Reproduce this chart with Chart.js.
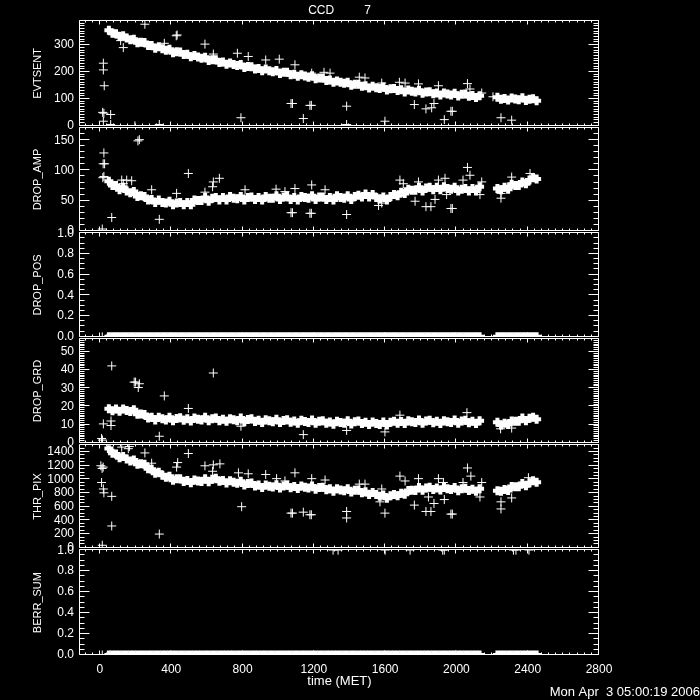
<!DOCTYPE html>
<html>
<head>
<meta charset="utf-8">
<title>CCD 7</title>
<script src="https://cdn.jsdelivr.net/npm/chart.js@4.4.1/dist/chart.umd.min.js"></script>
<style>
  html, body { margin: 0; padding: 0; background: #000; }
  #plots { position: relative; width: 700px; height: 700px; overflow: hidden; background: #000; }
  #plots canvas { position: absolute; left: 0; }
</style>
</head>
<body>
<div id="plots"></div>
<script>
// times (MET) of the main band of points, gap near 2150-2220
const TIME = [
  50, 70, 90, 110, 130, 150, 170, 190, 210, 230,
  250, 270, 290, 310, 330, 350, 370, 390, 410, 430,
  450, 470, 490, 510, 530, 550, 570, 590, 610, 630,
  650, 670, 690, 710, 730, 750, 770, 790, 810, 830,
  850, 870, 890, 910, 930, 950, 970, 990, 1010, 1030,
  1050, 1070, 1090, 1110, 1130, 1150, 1170, 1190, 1210, 1230,
  1250, 1270, 1290, 1310, 1330, 1350, 1370, 1390, 1410, 1430,
  1450, 1470, 1490, 1510, 1530, 1550, 1570, 1590, 1610, 1630,
  1650, 1670, 1690, 1710, 1730, 1750, 1770, 1790, 1810, 1830,
  1850, 1870, 1890, 1910, 1930, 1950, 1970, 1990, 2010, 2030,
  2050, 2070, 2090, 2110, 2130,
  2230, 2250, 2270, 2290, 2310, 2330, 2350, 2370, 2390, 2410,
  2430, 2450
];

const EVTSENT = [
  356, 344, 343, 332, 335, 327, 320, 322, 309, 311,
  310, 299, 299, 289, 294, 287, 281, 285, 272, 276,
  275, 265, 266, 257, 262, 256, 251, 255, 243, 246,
  246, 236, 237, 229, 234, 228, 224, 228, 217, 221,
  220, 211, 213, 205, 211, 205, 201, 206, 195, 199,
  199, 190, 192, 184, 190, 185, 181, 186, 175, 178,
  178, 169, 170, 162, 167, 162, 158, 162, 151, 155,
  155, 147, 149, 141, 147, 142, 139, 144, 133, 138,
  139, 131, 134, 126, 133, 129, 126, 132, 121, 126,
  127, 119, 122, 115, 122, 118, 115, 121, 111, 117,
  118, 110, 113, 105, 112,
  106, 99, 102, 96, 103, 100, 97, 104, 94, 99,
  101, 93
];

const DROP_AMP = [
  82, 75, 75, 68, 72, 66, 63, 65, 57, 58,
  57, 51, 52, 47, 51, 47, 46, 49, 43, 46,
  47, 43, 47, 43, 51, 50, 50, 55, 49, 54,
  55, 51, 55, 51, 57, 54, 53, 57, 51, 55,
  56, 52, 55, 51, 57, 54, 54, 58, 52, 56,
  57, 52, 55, 51, 57, 55, 54, 58, 52, 56,
  56, 52, 55, 51, 58, 55, 54, 58, 52, 57,
  59, 56, 61, 56, 60, 55, 53, 56, 51, 57,
  60, 58, 64, 62, 69, 67, 67, 72, 66, 71,
  72, 68, 72, 68, 73, 70, 69, 72, 66, 69,
  70, 66, 70, 66, 73,
  70, 68, 72, 69, 77, 75, 75, 81, 78, 84,
  88, 86
];

const DROP_POS = [
  0, 0, 0, 0, 0, 0, 0, 0, 0, 0,
  0, 0, 0, 0, 0, 0, 0, 0, 0, 0,
  0, 0, 0, 0, 0, 0, 0, 0, 0, 0,
  0, 0, 0, 0, 0, 0, 0, 0, 0, 0,
  0, 0, 0, 0, 0, 0, 0, 0, 0, 0,
  0, 0, 0, 0, 0, 0, 0, 0, 0, 0,
  0, 0, 0, 0, 0, 0, 0, 0, 0, 0,
  0, 0, 0, 0, 0, 0, 0, 0, 0, 0,
  0, 0, 0, 0, 0, 0, 0, 0, 0, 0,
  0, 0, 0, 0, 0, 0, 0, 0, 0, 0,
  0, 0, 0, 0, 0,
  0, 0, 0, 0, 0, 0, 0, 0, 0, 0,
  0, 0
];

const DROP_GRD = [
  18.8, 17.6, 18.6, 17.3, 18.6, 17.8, 17.2, 18.2, 15.7, 15.9,
  15.6, 13.7, 14.1, 12.6, 14, 13.2, 12.6, 14, 12.2, 13.4,
  13.8, 12.4, 13.2, 12, 13.6, 13, 12.6, 14, 12.2, 13.3,
  13.7, 12.2, 13, 11.8, 13.3, 12.7, 12.2, 13.6, 11.7, 12.8,
  13.2, 11.7, 12.4, 11.2, 12.7, 12.1, 11.6, 13, 11.2, 12.3,
  12.7, 11.3, 12, 10.8, 12.4, 11.7, 11.2, 12.5, 10.7, 11.8,
  12.1, 10.7, 11.4, 10.2, 11.8, 11.2, 10.8, 12.2, 10.4, 11.6,
  12, 10.6, 11.3, 10, 11.4, 10.6, 10.1, 11.4, 9.8, 11.3,
  11.9, 10.7, 11.7, 10.6, 12.2, 11.6, 11.2, 12.6, 10.8, 12,
  12.4, 11, 11.8, 10.6, 12.2, 11.6, 11.2, 12.6, 10.8, 12,
  12.4, 11, 11.8, 10.6, 12.2,
  11.3, 9.8, 10.8, 10, 12, 11.8, 11.8, 13.6, 12.1, 13.5,
  14.1, 12.9
];

const THR_PIX = [
  1450, 1383, 1371, 1315, 1335, 1300, 1270, 1285, 1220, 1230,
  1220, 1157, 1149, 1091, 1103, 1060, 1030, 1045, 986, 1008,
  1010, 969, 983, 950, 990, 975, 969, 1008, 967, 1001,
  1015, 972, 984, 946, 982, 960, 944, 973, 919, 940,
  947, 905, 918, 881, 919, 900, 888, 922, 876, 905,
  915, 879, 898, 867, 904, 886, 873, 905, 857, 882,
  887, 847, 862, 827, 864, 846, 833, 865, 815, 840,
  845, 805, 820, 780, 809, 780, 755, 773, 724, 762,
  780, 761, 797, 783, 839, 840, 838, 881, 842, 875,
  887, 853, 874, 845, 882, 864, 851, 883, 834, 863,
  872, 836, 855, 825, 865,
  835, 825, 853, 839, 895, 892, 894, 941, 908, 951,
  982, 960
];

const BERR_SUM = [
  0, 0, 0, 0, 0, 0, 0, 0, 0, 0,
  0, 0, 0, 0, 0, 0, 0, 0, 0, 0,
  0, 0, 0, 0, 0, 0, 0, 0, 0, 0,
  0, 0, 0, 0, 0, 0, 0, 0, 0, 0,
  0, 0, 0, 0, 0, 0, 0, 0, 0, 0,
  0, 0, 0, 0, 0, 0, 0, 0, 0, 0,
  0, 0, 0, 0, 0, 0, 0, 0, 0, 0,
  0, 0, 0, 0, 0, 0, 0, 0, 0, 0,
  0, 0, 0, 0, 0, 0, 0, 0, 0, 0,
  0, 0, 0, 0, 0, 0, 0, 0, 0, 0,
  0, 0, 0, 0, 0,
  0, 0, 0, 0, 0, 0, 0, 0, 0, 0,
  0, 0
];

// stray points away from the band
const EVTSENT_OUT_T = [252, 428, 433, 116, 131, 361, 589, 636, 771, 832, 930, 1006, 1094, 1188, 1257, 1291,
  1072, 1080, 1178, 1186, 1384, 791, 1141, 19, 19, 24, 15, 22, 60, 19, 60, 196, 333, 1384,
  1455, 1487, 1581, 1680, 1712, 1787, 1899, 2062, 2076, 2142, 1764, 1829, 1861, 1874, 1969, 1977,
  1932, 1599, 2250, 2310, 2205];
const EVTSENT_OUT_V = [378, 335, 338, 317, 291, 307, 304, 267, 270, 258, 245, 248, 227, 196, 199, 196,
  83, 83, 76, 76, 73, 30, 27, 233, 208, 149, 50, 47, 42, 17, 5, 0, 5, 5,
  181, 178, 159, 162, 159, 156, 149, 157, 137, 122, 79, 63, 67, 83, 54, 54,
  23, 17, 30, 21, 108];

const DROP_AMP_OUT_T = [22, 18, 26, 16, 22, 66, 213, 221, 496, 333, 122, 150, 178, 131, 290, 636, 670, 632,
  430, 589, 814, 988, 1038, 1094, 1188, 1263, 1072, 1080, 1178, 1186, 1384, 13,
  1683, 1702, 1787, 1899, 1936, 2062, 2076, 2037, 2142, 2310, 2413, 1581, 1563, 1768, 1829, 1857,
  1880, 1945, 1969, 1977, 2132, 2250, 2250];
const DROP_AMP_OUT_V = [129, 111, 111, 88, 90, 22, 149, 151, 95, 19, 84, 84, 83, 78, 68, 81, 87, 73,
  62, 64, 68, 69, 65, 70, 76, 68, 30, 30, 29, 29, 27, 3,
  84, 78, 81, 84, 87, 105, 92, 84, 81, 89, 95, 46, 42, 49, 40, 40,
  52, 60, 37, 37, 60, 54, 62];

const DROP_POS_OUT_T = [13];
const DROP_POS_OUT_V = [0];

const DROP_GRD_OUT_T = [19, 62, 62, 9, 14, 66, 192, 200, 221, 215, 361, 496, 636, 333, 791, 1141, 1384,
  1599, 2059, 2248, 2310, 1683];
const DROP_GRD_OUT_V = [10.4, 9.5, 12, 2.4, 1.5, 42.3, 33.4, 33.4, 32.5, 30.4, 25.8, 18.9, 38.4, 3.6, 9.1, 4.5, 6.8,
  6, 16.6, 7.7, 8.1, 15.2];

const THR_PIX_OUT_T = [5, 12, 18, 9, 19, 22, 66, 66, 333, 13, 252, 496, 122, 159, 165, 290, 436, 430, 589, 636,
  632, 673, 777, 832, 930, 991, 1094, 1188, 1263, 1038, 795, 1072, 1080, 1141, 1178, 1186, 1384, 1384,
  1455, 1487, 1581, 1683, 1712, 1787, 1899, 1927, 2062, 2081, 2142, 2037, 2404, 1599, 1764, 1829,
  1857, 1874, 1932, 1969, 1977, 1571, 1843, 2250, 2250, 2310, 2132];
const THR_PIX_OUT_V = [1200, 1160, 1180, 955, 860, 804, 752, 319, 201, 37, 1387, 1378, 1472, 1449, 1480, 1237, 1246, 1180, 1199, 1213,
  1119, 1227, 1096, 1082, 1072, 1011, 1096, 1011, 991, 977, 601, 507, 507, 521, 483, 483, 531, 436,
  931, 931, 860, 1048, 977, 1011, 1011, 955, 1167, 1048, 955, 955, 1025, 507, 624, 531,
  531, 648, 705, 493, 493, 672, 743, 672, 568, 729, 743];

const BERR_SUM_OUT_T = [13, 1308, 1336, 1600, 1740, 1923, 1932, 2320, 2334, 2407];
const BERR_SUM_OUT_V = [0, 1, 1, 1, 1, 1, 1, 1, 1, 1];

// axis ticks
const X_TICKS = [0, 400, 800, 1200, 1600, 2000, 2400, 2800];
const EVTSENT_TICKS = [0, 100, 200, 300];
const DROP_AMP_TICKS = [0, 50, 100, 150];
const UNIT_TICKS = [0, 0.2, 0.4, 0.6, 0.8, 1.0];
const DROP_GRD_TICKS = [0, 10, 20, 30, 40, 50];
const THR_PIX_TICKS = [0, 200, 400, 600, 800, 1000, 1200, 1400];

const PANELS = [
  { name: "EVTSENT", band: EVTSENT, outT: EVTSENT_OUT_T, outV: EVTSENT_OUT_V, max: 390, ticks: EVTSENT_TICKS, dec: 0, minor: 10 },
  { name: "DROP_AMP", band: DROP_AMP, outT: DROP_AMP_OUT_T, outV: DROP_AMP_OUT_V, max: 170, ticks: DROP_AMP_TICKS, dec: 0, minor: 10 },
  { name: "DROP_POS", band: DROP_POS, outT: DROP_POS_OUT_T, outV: DROP_POS_OUT_V, max: 1, ticks: UNIT_TICKS, dec: 1, minor: 0.05 },
  { name: "DROP_GRD", band: DROP_GRD, outT: DROP_GRD_OUT_T, outV: DROP_GRD_OUT_V, max: 57, ticks: DROP_GRD_TICKS, dec: 0, minor: 1 },
  { name: "THR_PIX", band: THR_PIX, outT: THR_PIX_OUT_T, outV: THR_PIX_OUT_V, max: 1500, ticks: THR_PIX_TICKS, dec: 0, minor: 50 },
  { name: "BERR_SUM", band: BERR_SUM, outT: BERR_SUM_OUT_T, outV: BERR_SUM_OUT_V, max: 1, ticks: UNIT_TICKS, dec: 1, minor: 0.05 }
];

// panel edges on the page (px)
const EDGES = [21, 127, 232, 338, 444, 549, 655];
const MARGIN = 12;

Chart.defaults.font.family = "'Liberation Sans', Arial, sans-serif";
Chart.defaults.font.weight = "normal";
Chart.defaults.color = "#fff";

// IDL style box with inward ticks on all four sides
const framePlugin = {
  id: "frame",
  afterDatasetsDraw(chart, args, opts) {
    const { ctx, chartArea: a } = chart;
    const xs = chart.scales.x, ys = chart.scales.y;
    const L = Math.round(a.left) - 0.5, R = Math.round(a.right) - 0.5;
    const T = Math.round(a.top) - 0.5, B = Math.round(a.bottom) - 0.5;

    ctx.save();
    ctx.strokeStyle = "#fff";
    ctx.lineWidth = 1;
    ctx.beginPath();
    ctx.rect(L, T, R - L, B - T);

    function yTick(v, len) {
      const p = Math.round(ys.getPixelForValue(v)) - 0.5;
      ctx.moveTo(L, p); ctx.lineTo(L + len, p);
      ctx.moveTo(R, p); ctx.lineTo(R - len, p);
    }
    function xTick(v, len) {
      const p = Math.round(xs.getPixelForValue(v)) - 0.5;
      ctx.moveTo(p, B); ctx.lineTo(p, B - len);
      ctx.moveTo(p, T); ctx.lineTo(p, T + len);
    }

    for (let k = Math.ceil(ys.min / opts.yMinor - 1e-9); k * opts.yMinor <= ys.max + 1e-9; k++) {
      yTick(k * opts.yMinor, 5);
    }
    ys.ticks.forEach(t => yTick(t.value, 10));
    for (let k = Math.ceil(xs.min / opts.xMinor - 1e-9); k * opts.xMinor <= xs.max + 1e-9; k++) {
      xTick(k * opts.xMinor, 2);
    }
    X_TICKS.forEach(v => xTick(v, 4));

    ctx.stroke();
    ctx.restore();
  }
};

function points(times, values) {
  return times.map((t, k) => ({ x: t, y: values[k] }));
}

const wrap = document.getElementById("plots");

PANELS.forEach(function (p, i) {
  const first = i === 0;
  const last = i === PANELS.length - 1;
  const top = first ? 0 : EDGES[i] - MARGIN;
  const bottom = last ? 700 : EDGES[i + 1] + MARGIN;

  const canvas = document.createElement("canvas");
  canvas.width = 700;
  canvas.height = bottom - top;
  canvas.style.top = top + "px";
  wrap.appendChild(canvas);

  new Chart(canvas.getContext("2d"), {
    type: "scatter",
    data: {
      datasets: [
        {
          data: points(TIME, p.band),
          pointStyle: "cross",
          pointRadius: 4.5,
          pointBorderWidth: 4,
          pointBorderColor: "#fff",
          pointBackgroundColor: "#fff"
        },
        {
          data: points(p.outT, p.outV),
          pointStyle: "cross",
          pointRadius: 4.5,
          pointBorderWidth: 1,
          pointBorderColor: "#fff",
          pointBackgroundColor: "#fff"
        }
      ]
    },
    options: {
      responsive: false,
      animation: false,
      devicePixelRatio: 1,
      events: [],
      layout: { padding: { left: 0, right: 0, top: first ? 0 : MARGIN, bottom: last ? 0 : MARGIN } },
      plugins: {
        legend: { display: false },
        tooltip: { enabled: false },
        title: {
          display: first,
          text: "CCD         7",
          fullSize: false,
          color: "#fff",
          font: { size: 12, weight: "normal" },
          padding: { top: 3, bottom: 3.6 }
        },
        subtitle: {
          display: last,
          text: "Mon Apr  3 05:00:19 2006",
          position: "bottom",
          align: "end",
          color: "#fff",
          font: { size: 13, weight: "normal" },
          padding: { top: -5, bottom: 0 }
        },
        frame: { yMinor: p.minor, xMinor: 40 }
      },
      scales: {
        x: {
          type: "linear",
          min: -112,
          max: 2800,
          display: last,
          afterBuildTicks: s => { s.ticks = X_TICKS.map(v => ({ value: v })); },
          grid: { display: false, drawTicks: false },
          border: { display: false },
          ticks: { autoSkip: false, maxRotation: 0, padding: 7, font: { size: 12 }, callback: v => String(v) },
          title: { display: true, text: "time (MET)", font: { size: 13 }, padding: { top: 0, bottom: 0 } },
          afterFit: s => { s.height = last ? 34.4 : 0; }
        },
        y: {
          position: "left",
          min: 0,
          max: p.max,
          afterBuildTicks: s => { s.ticks = p.ticks.map(v => ({ value: v })); },
          grid: { display: false, drawTicks: false },
          border: { display: false },
          ticks: { autoSkip: false, padding: 6, font: { size: 12 }, callback: v => Number(v).toFixed(p.dec) },
          title: { display: true, text: p.name, font: { size: 11 }, padding: { top: 31.4, bottom: 0 } },
          afterFit: s => { s.width = 80; }
        },
        yr: {
          position: "right",
          display: true,
          grid: { display: false, drawTicks: false },
          border: { display: false },
          ticks: { display: false },
          afterFit: s => { s.width = 101; }
        }
      }
    },
    plugins: [framePlugin]
  });
});
</script>
</body>
</html>
